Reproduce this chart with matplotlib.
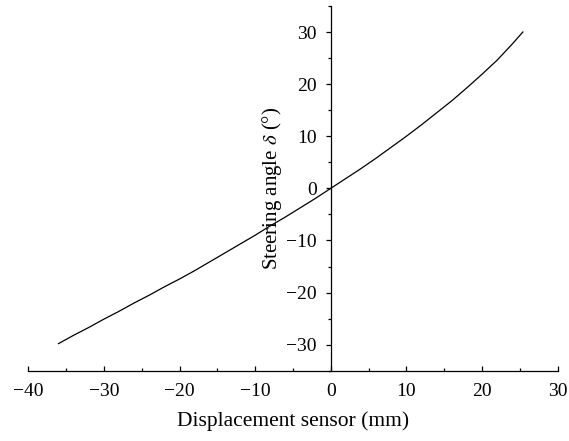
import matplotlib
matplotlib.use("Agg")
import matplotlib.pyplot as plt
from matplotlib.ticker import MultipleLocator

# Data
displacement = [-36, -34, -32, -30, -28, -26, -24, -22, -20, -18, -16, -14, -12, -10, -8, -6, -4, -2,
                0, 2, 4, 6, 8, 10, 12, 14, 16, 18, 20, 22, 24, 25.4]
steering = [-29.8, -28.2, -26.7, -25.1, -23.6, -22.0, -20.5, -18.9, -17.4, -15.8, -14.1, -12.4, -10.7,
            -9.0, -7.2, -5.5, -3.7, -1.9, 0.0, 1.9, 3.8, 5.8, 7.9, 10.0, 12.2, 14.5, 16.8, 19.3, 21.9,
            24.6, 27.7, 30.0]
x_ticks = [-40, -30, -20, -10, 0, 10, 20, 30]
y_ticks = [-30, -20, -10, 0, 10, 20, 30]

plt.rcParams['font.family'] = ['Liberation Serif', 'DejaVu Serif']
plt.rcParams['mathtext.fontset'] = 'stix'

fig = plt.figure(figsize=(5.69, 4.41), dpi=100)
ax = fig.add_axes([0.0497, 0.1594, 0.9303, 0.827])

ax.plot(displacement, steering, color='black', lw=0.9, solid_joinstyle='round')

ax.set_xlim(-40, 30)
ax.set_ylim(-35, 35)
ax.spines['top'].set_visible(False)
ax.spines['right'].set_visible(False)
ax.spines['left'].set_position(('data', 0))
for s in ('left', 'bottom'):
    ax.spines[s].set_linewidth(0.9)

def fmt(v):
    return '\u2212' + str(-v) if v < 0 else str(v)

ax.set_xticks(x_ticks)
ax.set_xticklabels([fmt(v) for v in x_ticks])
ax.set_yticks(y_ticks)
ax.set_yticklabels([fmt(v) for v in y_ticks])
ax.xaxis.set_minor_locator(MultipleLocator(5))
ax.yaxis.set_minor_locator(MultipleLocator(5))

ax.tick_params(which='major', length=3.5)
ax.tick_params(which='minor', length=2)
ax.tick_params(axis='x', which='both', direction='in', labelsize=14, pad=8.5, width=0.9)
ax.tick_params(axis='y', which='both', direction='out', labelsize=14, pad=6.5, width=0.9)

ax.set_xlabel('Displacement sensor (mm)', fontsize=15.5, labelpad=8.5)
ax.set_ylabel('Steering angle $\\delta$ (°)', fontsize=15, labelpad=1.5)

fig.savefig('out.png', dpi=100)
